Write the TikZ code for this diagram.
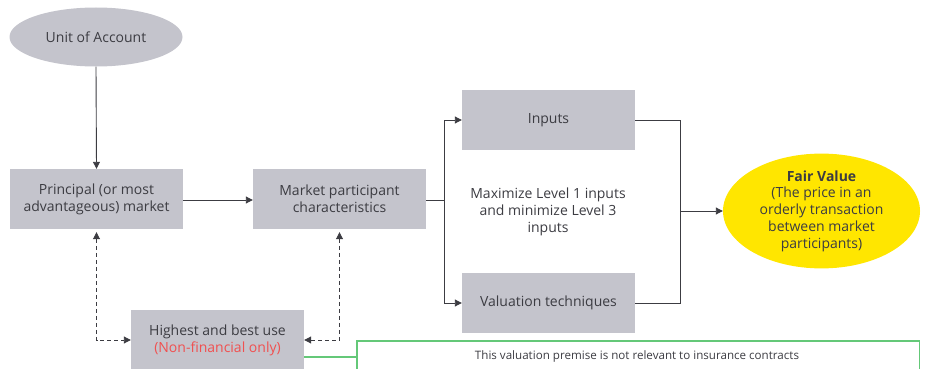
\documentclass[tikz,border=0pt]{standalone}
\usepackage{fontspec}
\setmainfont{Open Sans}
\usetikzlibrary{shapes.geometric,arrows.meta}
\definecolor{boxgrey}{RGB}{196,196,204}
\definecolor{eyyellow}{RGB}{255,230,0}
\definecolor{txtgrey}{RGB}{60,60,66}
\definecolor{redtxt}{RGB}{240,80,80}
\definecolor{notegreen}{RGB}{100,200,120}
\begin{document}
\begin{tikzpicture}[x=1pt,y=-1pt,
  every node/.style={font=\fontsize{14}{16.8}\selectfont, text=txtgrey},
  greybox/.style={fill=boxgrey, draw=none, minimum width=173pt, minimum height=60pt, align=center, inner sep=0pt},
  conn/.style={draw=txtgrey, line width=0.9pt, -{Triangle[length=7pt,width=7pt]}},
  plain/.style={draw=txtgrey, line width=0.9pt},
  dconn/.style={draw=txtgrey, line width=0.9pt, dash pattern=on 4pt off 3pt, {Triangle[length=7pt,width=7pt]}-{Triangle[length=7pt,width=7pt]}}
]
\useasboundingbox (0,0) rectangle (926,369);
\node[ellipse, fill=boxgrey, minimum width=173pt, minimum height=59pt, inner sep=0pt] (uoa) at (96,37) {Unit of Account};
\node[greybox] (pm) at (96.5,199) {Principal (or most\\advantageous) market};
\node[greybox] (mpc) at (339.5,199) {Market participant\\characteristics};
\node[greybox] (inp) at (548.5,120) {Inputs};
\node[greybox] (val) at (548.5,303) {Valuation techniques};
\node[greybox] (hbu) at (217.5,340) {Highest and best use\\\textcolor{redtxt}{(Non-financial only)}};
\node[align=center] (mid) at (548,212) {Maximize Level 1 inputs\\and minimize Level 3\\inputs};
\node[ellipse, fill=eyyellow, minimum width=197pt, minimum height=107pt, inner sep=0pt, align=center] (fv) at (821.5,211) {\textbf{Fair Value}\\(The price in an\\orderly transaction\\between market\\participants)};
\node[minimum width=562pt, minimum height=32pt, inner sep=0pt, anchor=north west] (note) at (357,341) {};
\draw[notegreen, line width=1.1pt] (note.north west) rectangle (note.south east);
\node[font=\fontsize{11.6}{14}\selectfont] (notetxt) at (637,356) {This valuation premise is not relevant to insurance contracts};
\coordinate (split) at (444,200);
\coordinate (join) at (680,211);

\draw[conn] (uoa.south) -- (pm.north);
\draw[conn] (pm.east |- 0,200) -- (mpc.west |- 0,200);
\draw[plain] (mpc.east |- 0,200) -- (split);
\draw[conn] (split) |- (inp.west);
\draw[conn] (split) |- (val.west);
\draw[plain] (inp.east) -| (join);
\draw[plain] (val.east) -| (join);
\draw[conn] (join) -- (fv.west);
\draw[dconn] (pm.south) ++(0,3) |- (hbu.west);
\draw[dconn] (mpc.south) ++(0,3) |- (hbu.east);
\draw[draw=notegreen, line width=1.1pt] (hbu.east |- 0,357) -- (note.west |- 0,357);
\end{tikzpicture}
\end{document}
